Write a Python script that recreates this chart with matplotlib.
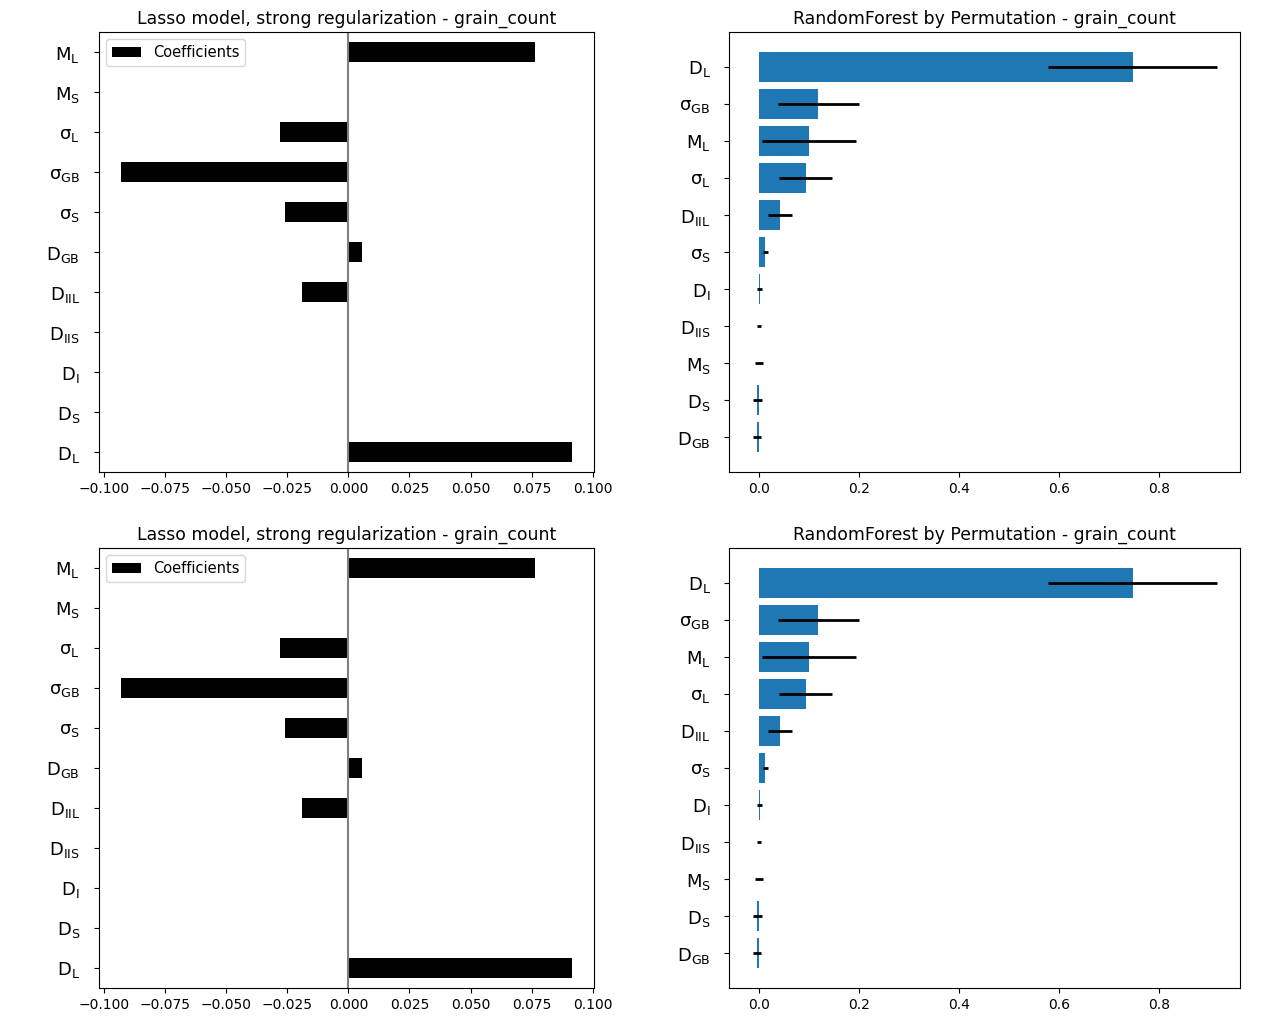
import numpy as np
import matplotlib
matplotlib.use("Agg")
import matplotlib.pyplot as plt
from matplotlib.ticker import MultipleLocator, FuncFormatter

plt.rcParams['mathtext.default'] = 'regular'

# Lasso coefficients (pandas barh order: bottom -> top)
lasso_labels = [r'$D_L$', r'$D_S$', r'$D_I$', r'$D_{IIS}$', r'$D_{IIL}$', r'$D_{GB}$',
                r'$\sigma_S$', r'$\sigma_{GB}$', r'$\sigma_L$', r'$M_S$', r'$M_L$']
lasso_coef = [0.0913, 0.0, 0.0, 0.0, -0.0189, 0.0055,
              -0.0257, -0.0929, -0.0278, 0.0, 0.0765]

# permutation importances (bottom -> top)
rf_labels = [r'$D_{GB}$', r'$D_S$', r'$M_S$', r'$D_{IIS}$', r'$D_I$', r'$\sigma_S$',
             r'$D_{IIL}$', r'$\sigma_L$', r'$M_L$', r'$\sigma_{GB}$', r'$D_L$']
rf_mean = [-0.0045, -0.0035, -0.0003, -0.0003, 0.0015, 0.012,
           0.0416, 0.093, 0.099, 0.118, 0.747]
rf_std = [0.0075, 0.0095, 0.008, 0.004, 0.005, 0.005,
          0.024, 0.053, 0.094, 0.081, 0.169]


def fmt3(v, pos):
    return ('%.3f' % v).replace('-', '\u2212')


fig = plt.figure(figsize=(12.8, 10.24), dpi=100)

rows_y = [0.539, 0.0352]
for yb in rows_y:
    ax = fig.add_axes([0.0771, yb, 0.387, 0.4297])
    y = np.arange(len(lasso_coef))
    ax.barh(y, lasso_coef, height=0.5, color='k', label='Coefficients')
    ax.set_yticks(y)
    ax.set_yticklabels(lasso_labels, fontsize=13)
    ax.tick_params(axis='y', pad=10)
    ax.xaxis.set_major_locator(MultipleLocator(0.025))
    ax.xaxis.set_major_formatter(FuncFormatter(fmt3))
    ax.axvline(x=0, color='.5')
    ax.set_ylim(-0.5, len(y) - 0.5)
    ax.legend(loc='upper left', fontsize=10.5)
    ax.set_title('Lasso model, strong regularization - grain_count', fontsize=12.4)

    ax = fig.add_axes([0.5698, yb, 0.3992, 0.4297])
    y2 = np.arange(len(rf_mean))
    ax.barh(y2, rf_mean, xerr=rf_std, color='tab:blue', error_kw={'lw': 2})
    ax.set_yticks(y2)
    ax.set_yticklabels(rf_labels, fontsize=13)
    ax.tick_params(axis='y', pad=10)
    ax.set_title('RandomForest by Permutation - grain_count', fontsize=12.4)

plt.savefig('out.png')
